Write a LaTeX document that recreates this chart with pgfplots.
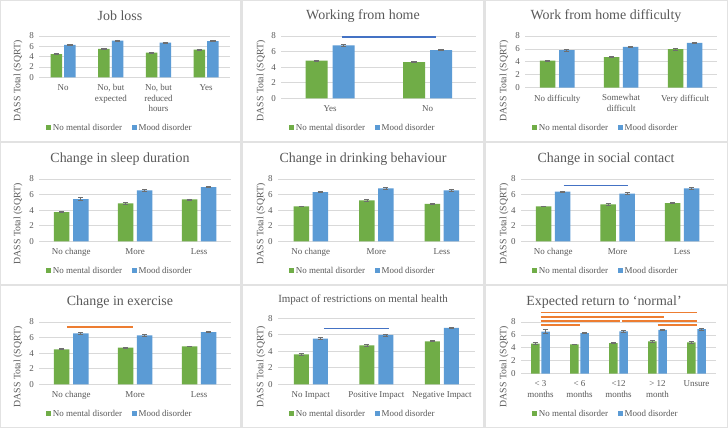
\documentclass[border=0pt]{standalone}
\usepackage{fontspec}
\setmainfont{Liberation Serif}
\usepackage{pgfplots}
\pgfplotsset{compat=1.18}
\definecolor{cgreen}{HTML}{70AD47}
\definecolor{cblue}{HTML}{5B9BD5}
\definecolor{lblue}{HTML}{4472C4}
\definecolor{corange}{HTML}{ED7D31}
\definecolor{tgray}{HTML}{595959}
\definecolor{ggray}{HTML}{D9D9D9}
\definecolor{egray}{HTML}{6F6F6F}
\definecolor{bgray}{HTML}{E2E2E2}
\pgfplotsset{
  panel/.style={
    scale only axis, anchor=south west, clip=false,
    ymin=0, ymax=8, ytick={0,2,4,6,8}, xmin=-0.5,
    axis line style={draw=none},
    major tick length=0pt,
    ymajorgrids, grid style={draw=ggray, line width=0.75bp},
    tick label style={font=\fontsize{9}{10.7}\selectfont, text=tgray},
    /pgf/number format/assume math mode=true,
    xticklabel style={align=center, yshift=-3.5bp},
    yticklabel style={xshift=-2bp},
    legend columns=2,
    legend style={draw=none, fill=none, anchor=center,
      font=\fontsize{9}{10.7}\selectfont, text=tgray,
      /tikz/every even column/.append style={column sep=8bp}},
  },
  ebar/.style={error bars/y dir=both, error bars/y explicit,
    error bars/error bar style={draw=egray, line width=0.7bp},
    error bars/error mark options={draw=egray, line width=0.7bp, mark size=2.6bp, rotate=90}},
  gbar/.style={ybar, bar shift=0bp, fill=cgreen, draw=none, ebar,
    legend image code/.code={\fill[##1] (0bp,-2.2bp) rectangle (4.5bp,2.3bp);}},
  bbar/.style={ybar, bar shift=0bp, fill=cblue, draw=none, ebar,
    legend image code/.code={\fill[##1] (0bp,-2.2bp) rectangle (4.5bp,2.3bp);}},
}
\begin{document}
\begin{tikzpicture}[x=1bp,y=1bp]
\fill[bgray] (0,0) rectangle (728,428);
\foreach \cx/\cw in {1/239, 243/240, 486/241}{
  \foreach \ry/\rh in {287.3/139.7, 144/141.3, 1/141}{
    \fill[white] (\cx,\ry) rectangle ++(\cw,\rh);
  }
}
% titles
\begin{scope}[every node/.style={text=tgray, font=\fontsize{14}{16}\selectfont}]
\node at (120,412) {Job loss};
\node at (363,412) {Working from home};
\node at (606,412) {Work from home difficulty};
\node at (120,269) {Change in sleep duration};
\node at (363,269) {Change in drinking behaviour};
\node at (606,269) {Change in social contact};
\node at (120,126) {Change in exercise};
\node[font=\fontsize{11}{13}\selectfont] at (363,128) {Impact of restrictions on mental health};
\node at (604,126) {Expected return to ‘normal’};
\end{scope}
% y labels
\begin{scope}[every node/.style={text=tgray, rotate=90, font=\fontsize{9.8}{11}\selectfont}]
\foreach \cx in {18,261,504}{
  \foreach \ry in {347,204,61}{
    \node at (\cx,\ry) {DASS Total (SQRT)};
  }
}
\end{scope}

% P1 Job loss
\begin{axis}[panel, at={(39.3bp,350.7bp)}, width=190.7bp, height=41.3bp,
  xmax=3.5, xtick={0,1,2,3},
  xticklabels={{No},{No, but\\expected},{No, but\\reduced\\hours},{Yes}},
  legend style={at={(0.423,-1.22)}}]
\addplot[gbar, bar width=11.5bp] table[x=x,y=y,y error=e,row sep=\\]{x y e\\-0.143 4.5 0.08\\0.857 5.5 0.1\\1.857 4.8 0.1\\2.857 5.35 0.1\\};
\addplot[bbar, bar width=11.5bp] table[x=x,y=y,y error=e,row sep=\\]{x y e\\0.143 6.3 0.08\\1.143 7.1 0.15\\2.143 6.7 0.12\\3.143 7.0 0.12\\};
\legend{No mental disorder, Mood disorder}
\end{axis}

% P2 Working from home
\begin{axis}[panel, at={(281.3bp,329.7bp)}, width=195bp, height=62.3bp,
  xmax=1.5, xtick={0,1}, xticklabels={Yes,No},
  legend style={at={(0.419,-0.472)}}]
\addplot[gbar, bar width=22bp] table[x=x,y=y,y error=e,row sep=\\]{x y e\\-0.1385 4.83 0.06\\0.8615 4.66 0.06\\};
\addplot[bbar, bar width=22bp] table[x=x,y=y,y error=e,row sep=\\]{x y e\\0.1385 6.8 0.07\\1.1385 6.2 0.07\\};
\addplot[lblue, line width=2.3bp, forget plot] coordinates {(0.12,7.83) (1.09,7.83)};
\legend{No mental disorder, Mood disorder}
\end{axis}

% P3 Work from home difficulty
\begin{axis}[panel, at={(525.3bp,340.3bp)}, width=191.7bp, height=51.7bp,
  xmax=2.5, xtick={0,1,2},
  xticklabels={{No difficulty},{Somewhat\\difficult},{Very difficult}},
  legend style={at={(0.421,-0.774)}}]
\addplot[gbar, bar width=15.5bp] table[x=x,y=y,y error=e,row sep=\\]{x y e\\-0.149 4.2 0.07\\0.851 4.75 0.07\\1.851 5.95 0.1\\};
\addplot[bbar, bar width=15.5bp] table[x=x,y=y,y error=e,row sep=\\]{x y e\\0.149 5.8 0.12\\1.149 6.3 0.08\\2.149 6.95 0.12\\};
\legend{No mental disorder, Mood disorder}
\end{axis}

% P4 Sleep
\begin{axis}[panel, at={(39.3bp,186.7bp)}, width=191.7bp, height=62.3bp,
  xmax=2.5, xtick={0,1,2}, xticklabels={No change,More,Less},
  legend style={at={(0.421,-0.472)}}]
\addplot[gbar, bar width=15.5bp] table[x=x,y=y,y error=e,row sep=\\]{x y e\\-0.149 3.76 0.07\\0.851 4.87 0.07\\1.851 5.38 0.07\\};
\addplot[bbar, bar width=15.5bp] table[x=x,y=y,y error=e,row sep=\\]{x y e\\0.149 5.43 0.15\\1.149 6.54 0.1\\2.149 6.97 0.1\\};
\legend{No mental disorder, Mood disorder}
\end{axis}

% P5 Drinking
\begin{axis}[panel, at={(278bp,186.7bp)}, width=196.7bp, height=62.3bp,
  xmax=2.5, xtick={0,1,2}, xticklabels={No change,More,Less},
  legend style={at={(0.432,-0.472)}}]
\addplot[gbar, bar width=15.5bp] table[x=x,y=y,y error=e,row sep=\\]{x y e\\-0.145 4.49 0.06\\0.855 5.26 0.08\\1.855 4.79 0.08\\};
\addplot[bbar, bar width=15.5bp] table[x=x,y=y,y error=e,row sep=\\]{x y e\\0.145 6.32 0.07\\1.145 6.8 0.12\\2.145 6.54 0.18\\};
\legend{No mental disorder, Mood disorder}
\end{axis}

% P6 Social contact
\begin{axis}[panel, at={(521bp,186.7bp)}, width=193.3bp, height=62.3bp,
  xmax=2.5, xtick={0,1,2}, xticklabels={No change,More,Less},
  legend style={at={(0.44,-0.472)}}]
\addplot[gbar, bar width=15.5bp] table[x=x,y=y,y error=e,row sep=\\]{x y e\\-0.1475 4.49 0.06\\0.8525 4.74 0.08\\1.8525 4.91 0.06\\};
\addplot[bbar, bar width=15.5bp] table[x=x,y=y,y error=e,row sep=\\]{x y e\\0.1475 6.37 0.1\\1.1475 6.11 0.13\\2.1475 6.8 0.08\\};
\addplot[lblue, line width=1.5bp, forget plot] coordinates {(0.16,7.19) (1.16,7.19)};
\legend{No mental disorder, Mood disorder}
\end{axis}

% P7 Exercise
\begin{axis}[panel, at={(39.3bp,43.7bp)}, width=191.7bp, height=62.3bp,
  xmax=2.5, xtick={0,1,2}, xticklabels={No change,More,Less},
  legend style={at={(0.421,-0.472)}}]
\addplot[gbar, bar width=15.5bp] table[x=x,y=y,y error=e,row sep=\\]{x y e\\-0.149 4.5 0.06\\0.851 4.7 0.07\\1.851 4.87 0.06\\};
\addplot[bbar, bar width=15.5bp] table[x=x,y=y,y error=e,row sep=\\]{x y e\\0.149 6.54 0.12\\1.149 6.28 0.08\\2.149 6.7 0.08\\};
\addplot[corange, line width=2bp, forget plot] coordinates {(-0.07,7.36) (0.96,7.36)};
\legend{No mental disorder, Mood disorder}
\end{axis}

% P8 Impact
\begin{axis}[panel, at={(278bp,43.7bp)}, width=196.7bp, height=66bp,
  xmax=2.5, xtick={0,1,2}, xticklabels={No Impact,Positive Impact,Negative Impact},
  legend style={at={(0.432,-0.445)}}]
\addplot[gbar, bar width=15bp] table[x=x,y=y,y error=e,row sep=\\]{x y e\\-0.145 3.64 0.07\\0.855 4.73 0.07\\1.855 5.21 0.06\\};
\addplot[bbar, bar width=15bp] table[x=x,y=y,y error=e,row sep=\\]{x y e\\0.145 5.54 0.12\\1.145 5.98 0.12\\2.145 6.83 0.06\\};
\addplot[lblue, line width=1.5bp, forget plot] coordinates {(0.2,6.79) (1.2,6.79)};
\legend{No mental disorder, Mood disorder}
\end{axis}

% P9 Expected return
\begin{axis}[panel, at={(521bp,54.3bp)}, width=195bp, height=51.7bp,
  xmax=4.5, xtick={0,1,2,3,4},
  xticklabels={{< 3\\months},{< 6\\months},{<12\\months},{> 12\\month},{Unsure}},
  legend style={at={(0.436,-0.774)}}]
\addplot[gbar, bar width=8.5bp] table[x=x,y=y,y error=e,row sep=\\]{x y e\\-0.133 4.64 0.15\\0.867 4.54 0.07\\1.867 4.74 0.07\\2.867 5.0 0.1\\3.867 4.85 0.1\\};
\addplot[bbar, bar width=8.5bp] table[x=x,y=y,y error=e,row sep=\\]{x y e\\0.133 6.5 0.3\\1.133 6.29 0.08\\2.133 6.55 0.1\\3.133 6.8 0.12\\4.133 6.9 0.12\\};
\addplot[corange, line width=1.7bp, forget plot] coordinates {(0,9.49) (4,9.49)};
\addplot[corange, line width=1.7bp, forget plot] coordinates {(0,8.8) (3.16,8.8)};
\addplot[corange, line width=1.7bp, forget plot] coordinates {(0,8.15) (2.03,8.15)};
\addplot[corange, line width=1.7bp, forget plot] coordinates {(2.1,8.15) (4,8.15)};
\addplot[corange, line width=1.7bp, forget plot] coordinates {(0,7.54) (1,7.54)};
\addplot[corange, line width=1.7bp, forget plot] coordinates {(3,7.54) (4,7.54)};
\legend{No mental disorder, Mood disorder}
\end{axis}
\end{tikzpicture}
\end{document}
